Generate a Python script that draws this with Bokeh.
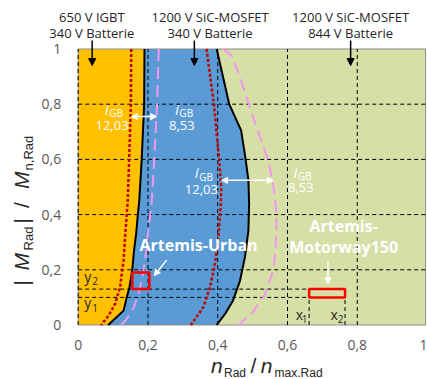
import math
from bokeh.plotting import figure
from bokeh.models import Range1d, FixedTicker, Label, Arrow, NormalHead
from bokeh.embed import file_html
from bokeh.resources import INLINE

# ---------------- data ----------------
# boundary IGBT(340V) | SiC(340V)
b1_x = [0.190, 0.189, 0.182, 0.175, 0.171, 0.166, 0.160, 0.155, 0.147, 0.139, 0.130, 0.086]
b1_y = [1.0, 0.8, 0.6, 0.45, 0.4, 0.33, 0.27, 0.2, 0.137, 0.1, 0.052, 0.0]
# boundary SiC(340V) | SiC(844V)
b2_x = [0.397, 0.433, 0.467, 0.480, 0.488, 0.490, 0.488, 0.478, 0.464, 0.444, 0.421, 0.397]
b2_y = [1.0, 0.8, 0.705, 0.6, 0.524, 0.44, 0.342, 0.246, 0.161, 0.089, 0.04, 0.0]
# i_GB = 12,03 limit curves (red dotted)
red1_x = [0.152, 0.151, 0.146, 0.142, 0.139, 0.135, 0.130, 0.120, 0.106, 0.087, 0.066]
red1_y = [1.0, 0.8, 0.6, 0.45, 0.4, 0.33, 0.234, 0.137, 0.077, 0.034, 0.0]
red2_x = [0.368, 0.389, 0.404, 0.410, 0.409, 0.402, 0.392, 0.378, 0.359, 0.323]
red2_y = [1.0, 0.8, 0.6, 0.5, 0.44, 0.32, 0.222, 0.137, 0.065, 0.0]
# i_GB = 8,53 limit curves (pink dashed)
pink1_x = [0.231, 0.226, 0.218, 0.211, 0.200, 0.192, 0.182, 0.173, 0.158, 0.139, 0.124]
pink1_y = [1.0, 0.8, 0.6, 0.45, 0.33, 0.234, 0.161, 0.113, 0.059, 0.022, 0.0]
pink2_x = [0.416, 0.44, 0.464, 0.492, 0.521, 0.545, 0.558, 0.567, 0.569, 0.560, 0.535, 0.500, 0.459]
pink2_y = [1.0, 0.975, 0.897, 0.789, 0.68, 0.596, 0.52, 0.42, 0.33, 0.2, 0.11, 0.045, 0.0]
# driving cycles (operating windows)
urban_x = [0.155, 0.204]
urban_y = [0.13, 0.19]
motorway_x = [0.662, 0.765]
motorway_y = [0.1, 0.13]

x_ticks = [0, 0.2, 0.4, 0.6, 0.8, 1]
x_tick_labels = ["0", "0,2", "0,4", "0,6", "0,8", "1"]
y_ticks = [0, 0.2, 0.4, 0.6, 0.8, 1]
y_tick_labels = ["0", "0,2", "0,4", "0,6", "0,8", "1"]
grid_x = [0, 0.2, 0.4, 0.6, 0.8]
grid_y = [0.2, 0.4, 0.6, 0.8]

devices = ["650 V IGBT", "1200 V SiC-MOSFET", "1200 V SiC-MOSFET"]
batteries = ["340 V Batterie", "340 V Batterie", "844 V Batterie"]
igb_values = ["12,03", "8,53", "12,03", "8,53"]

ORANGE = "#FFC000"
BLUE = "#5B9BD5"
GREEN = "#D6E0A6"
PINK = "#F296EE"
DARK = "#262626"
TICK = "#595959"
FONT = "Open Sans"
AFONT = "Liberation Sans"

X_RIGHT = 0.996   # right border of the plotting area
PX_X = 348.8      # pixels per x unit
PX_Y = 276.0      # pixels per y unit

# the whole canvas is the frame, so that captions outside the plot area are not clipped
p = figure(width=427, height=379, min_border=0,
           x_range=Range1d(-0.2228, 1.0014), y_range=Range1d(-0.1975, 1.1757),
           output_backend="svg", toolbar_location=None)
p.xgrid.visible = False
p.ygrid.visible = False
p.outline_line_color = None
p.background_fill_color = "white"
p.border_fill_color = "white"

for ax, ticks, labs in ((p.xaxis[0], x_ticks, x_tick_labels), (p.yaxis[0], y_ticks, y_tick_labels)):
    ax.fixed_location = 0
    ax.ticker = FixedTicker(ticks=ticks)
    ax.major_label_overrides = {t: l for t, l in zip(ticks, labs)}
    ax.axis_line_color = None
    ax.major_tick_line_color = None
    ax.minor_tick_line_color = None
    ax.major_tick_out = 0
    ax.major_tick_in = 0
    ax.major_label_text_font = FONT
    ax.major_label_text_font_size = "14px"
    ax.major_label_text_color = TICK
p.xaxis.major_label_standoff = 15
p.yaxis.major_label_standoff = 17

# regions
p.patch([0] + b1_x + [0], [1] + b1_y + [0], fill_color=ORANGE, line_color=None)
p.patch(b1_x + b2_x[::-1], b1_y + b2_y[::-1], fill_color=BLUE, line_color=None)
p.patch(b2_x + [X_RIGHT, X_RIGHT], b2_y + [0, 1], fill_color=GREEN, line_color=None)
p.quad(left=[0], right=[X_RIGHT], bottom=[0], top=[1], fill_color=None,
       line_color="#8c8c8c", line_width=1)

# grid lines (dashed, over the regions)
p.segment(x0=grid_x, y0=[0] * len(grid_x), x1=grid_x, y1=[1] * len(grid_x),
          line_color="black", line_width=1, line_dash="4 3")
p.segment(x0=[0] * len(grid_y), y0=grid_y, x1=[X_RIGHT] * len(grid_y), y1=grid_y,
          line_color="black", line_width=1, line_dash="4 3")
p.segment(x0=[0, 0], y0=motorway_y, x1=[motorway_x[0]] * 2, y1=motorway_y,
          line_color="black", line_width=1, line_dash="4 3")
p.segment(x0=motorway_x, y0=[0, 0], x1=motorway_x, y1=[motorway_y[0]] * 2,
          line_color="black", line_width=1, line_dash="4 3")

# limit curves
p.line(red1_x, red1_y, line_color="#C00000", line_width=2.5, line_dash="3 2")
p.line(red2_x, red2_y, line_color="#C00000", line_width=2.5, line_dash="3 2")
p.line(pink1_x, pink1_y, line_color=PINK, line_width=2, line_dash="12 6")
p.line(pink2_x, pink2_y, line_color=PINK, line_width=2, line_dash="12 6")
p.line(b1_x, b1_y, line_color="black", line_width=2)
p.line(b2_x, b2_y, line_color="black", line_width=2)

# cycles
p.quad(left=[urban_x[0]], right=[urban_x[1]], bottom=[urban_y[0]], top=[urban_y[1]],
       fill_color=None, line_color="#FF0000", line_width=2.5)
p.quad(left=[motorway_x[0]], right=[motorway_x[1]], bottom=[motorway_y[0]], top=[motorway_y[1]],
       fill_color=None, line_color="#FF0000", line_width=2.5)

SHIFT = 0.33  # empirical baseline correction (fraction of font size)


def lab(x, y, text, size, color=DARK, style="normal", font=FONT, align="left", angle=0):
    if angle:
        x = x - SHIFT * size / PX_X
    else:
        y = y + SHIFT * size / PX_Y
    p.add_layout(Label(x=x, y=y, text=text, text_font_size=f"{size}px", text_color=color,
                       text_font_style=style, text_font=font, text_align=align,
                       text_baseline="alphabetic", angle=angle))


def arrow(x0, y0, x1, y1, color, both=False, size=7, width=1.5):
    head = dict(size=size, fill_color=color, line_color=color)
    p.add_layout(Arrow(x_start=x0, y_start=y0, x_end=x1, y_end=y1,
                       line_color=color, line_width=width,
                       end=NormalHead(**head),
                       start=NormalHead(**head) if both else None))


# top captions with arrows
cap_x = [0.039, 0.378, 0.781]
arr_x = [0.040, 0.333, 0.781]
for i in range(3):
    lab(cap_x[i], 1.0996, devices[i], 13, align="center")
    lab(cap_x[i], 1.042, batteries[i], 13, align="center")
    arrow(arr_x[i], 1.031, arr_x[i], 0.94, "black", size=7, width=1.5)

# i_GB annotations
igb_pos = [(0.077, 0.765, 0.097, 0.707), (0.278, 0.765, 0.297, 0.707),
           (0.335, 0.534, 0.353, 0.476), (0.618, 0.535, 0.638, 0.481)]
for (ix, iy, vx, vy), val in zip(igb_pos, igb_values):
    lab(ix, iy, "i", 14, color="white", style="italic")
    lab(ix + 0.012, iy - 0.008, "GB", 10, color="white")
    lab(vx, vy, val, 13, color="white", align="center")
arrow(0.152, 0.755, 0.225, 0.755, "white", both=True, size=6, width=1.5)
arrow(0.411, 0.524, 0.559, 0.524, "white", both=True, size=6, width=1.5)

# cycle labels
lab(0.345, 0.27, "Artemis-Urban", 16, color="white", style="bold", align="center")
lab(0.761, 0.34, "Artemis-", 16, color="white", style="bold", align="center")
lab(0.761, 0.264, "Motorway150", 16, color="white", style="bold", align="center")
arrow(0.254, 0.236, 0.218, 0.179, "white", size=6, width=1.5)
arrow(0.716, 0.23, 0.716, 0.149, "white", size=6, width=1.5)

# y1 / y2, x1 / x2
lab(0.017, 0.158, "y", 14)
lab(0.040, 0.147, "2", 10)
lab(0.017, 0.063, "y", 14)
lab(0.040, 0.049, "1", 10)
lab(0.624, 0.022, "x", 14)
lab(0.641, 0.010, "1", 10)
lab(0.723, 0.022, "x", 14)
lab(0.744, 0.010, "2", 10)

# x axis title: n_Rad / n_max.Rad
lab(0.381, -0.172, "n", 21, style="italic", font=AFONT)
lab(0.418, -0.187, "Rad", 12, font=AFONT)
lab(0.494, -0.172, "/", 21, font=AFONT)
lab(0.523, -0.172, "n", 21, style="italic", font=AFONT)
lab(0.563, -0.187, "max.Rad", 12, font=AFONT)

# y axis title: |M_Rad| / M_n,Rad  (rotated)
A = math.pi / 2
xb, xs = -0.143, -0.129
lab(xb, 0.143, "|", 21, font=AFONT, angle=A)
lab(xb, 0.197, "M", 21, style="italic", font=AFONT, angle=A)
lab(xs, 0.270, "Rad", 13, font=AFONT, angle=A)
lab(xb, 0.368, "|", 21, font=AFONT, angle=A)
lab(xb, 0.424, "/", 21, font=AFONT, angle=A)
lab(xb, 0.493, "M", 21, style="italic", font=AFONT, angle=A)
lab(xs, 0.560, "n,Rad", 13, font=AFONT, angle=A)

open("out.html", "w").write(file_html(p, INLINE))
